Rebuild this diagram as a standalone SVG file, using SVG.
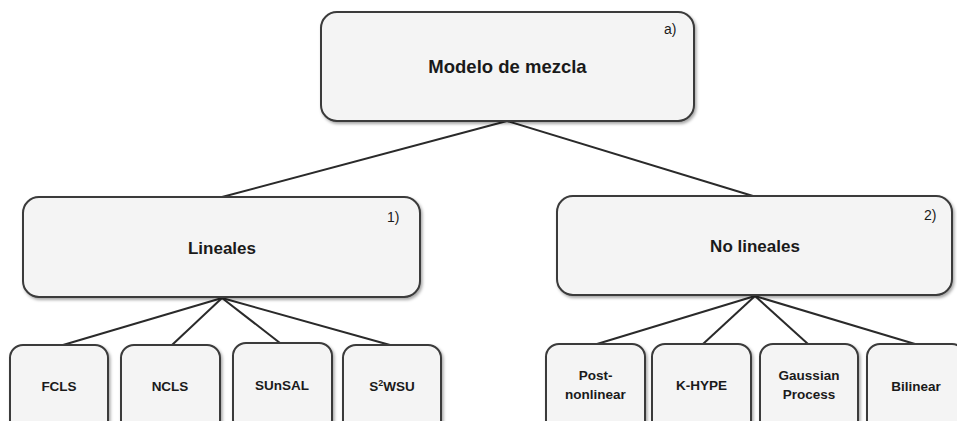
<svg xmlns="http://www.w3.org/2000/svg" width="957" height="421" viewBox="0 0 957 421">
  <defs>
    <filter id="shadow" x="-10%" y="-10%" width="120%" height="130%">
      <feDropShadow dx="1.5" dy="2" stdDeviation="1.5" flood-color="#000" flood-opacity="0.35"/>
    </filter>
  </defs>
  <style>
    .box { fill: #f4f4f4; stroke: #3a3a3a; stroke-width: 2; filter: url(#shadow); }
    .edge { stroke: #2a2a2a; stroke-width: 2; fill: none; }
    .t { font-family: "Liberation Sans", Arial, sans-serif; font-weight: bold; fill: #1a1a1a; text-anchor: middle; }
    .big { font-size: 18.5px; }
    .mid { font-size: 17px; }
    .leaf { font-size: 13.5px; }
    .tag { font-family: "Liberation Sans", Arial, sans-serif; font-size: 14px; fill: #1a1a1a; }
  </style>
  <rect width="957" height="421" fill="#ffffff"/>

  <!-- tree edges: parent bottom centre to child top -->
  <g id="connectors">
    <line class="edge" x1="507" y1="121" x2="222" y2="197"/>
    <line class="edge" x1="507" y1="121" x2="753" y2="196"/>
    <line class="edge" x1="222" y1="298" x2="63" y2="345"/>
    <line class="edge" x1="222" y1="298" x2="172" y2="345"/>
    <line class="edge" x1="222" y1="298" x2="280" y2="343"/>
    <line class="edge" x1="222" y1="298" x2="390" y2="345"/>
    <line class="edge" x1="755" y1="296" x2="597" y2="344"/>
    <line class="edge" x1="755" y1="296" x2="703" y2="344"/>
    <line class="edge" x1="755" y1="296" x2="808" y2="344"/>
    <line class="edge" x1="755" y1="296" x2="915" y2="344"/>
  </g>

  <g id="modelo">
    <rect class="box" x="321" y="12" width="373" height="109" rx="16"/>
    <text class="t big" x="507.5" y="73">Modelo de mezcla</text>
    <text class="tag" x="664" y="34">a)</text>
  </g>

  <g id="lineales">
    <rect class="box" x="23" y="197" width="397" height="100" rx="16"/>
    <text class="t mid" x="222" y="254">Lineales</text>
    <text class="tag" x="387" y="222">1)</text>
  </g>

  <g id="no-lineales">
    <rect class="box" x="557" y="196" width="395" height="99" rx="16"/>
    <text class="t mid" x="755" y="252">No lineales</text>
    <text class="tag" x="924" y="220">2)</text>
  </g>

  <g id="fcls">
    <rect class="box" x="10" y="345" width="98" height="90" rx="13"/>
    <text class="t leaf" x="59" y="391">FCLS</text>
  </g>
  <g id="ncls">
    <rect class="box" x="121" y="345" width="99" height="90" rx="13"/>
    <text class="t leaf" x="170" y="391">NCLS</text>
  </g>
  <g id="sunsal">
    <rect class="box" x="233" y="343" width="99" height="90" rx="13"/>
    <text class="t leaf" x="282" y="390">SUnSAL</text>
  </g>
  <g id="s2wsu">
    <rect class="box" x="343" y="345" width="98" height="90" rx="13"/>
    <text class="t leaf" x="392" y="391">S<tspan font-size="9px" dy="-5">2</tspan><tspan dy="5">WSU</tspan></text>
  </g>

  <g id="post-nonlinear">
    <rect class="box" x="546" y="344" width="99" height="90" rx="13"/>
    <text class="t leaf" x="595.5" y="380">Post-</text>
    <text class="t leaf" x="595.5" y="399">nonlinear</text>
  </g>
  <g id="k-hype">
    <rect class="box" x="652" y="344" width="99" height="90" rx="13"/>
    <text class="t leaf" x="701.5" y="390">K-HYPE</text>
  </g>
  <g id="gaussian-process">
    <rect class="box" x="760" y="344" width="98" height="90" rx="13"/>
    <text class="t leaf" x="809" y="380">Gaussian</text>
    <text class="t leaf" x="809" y="399">Process</text>
  </g>
  <g id="bilinear">
    <rect class="box" x="867" y="344" width="98" height="90" rx="13"/>
    <text class="t leaf" x="916" y="391">Bilinear</text>
  </g>
</svg>
